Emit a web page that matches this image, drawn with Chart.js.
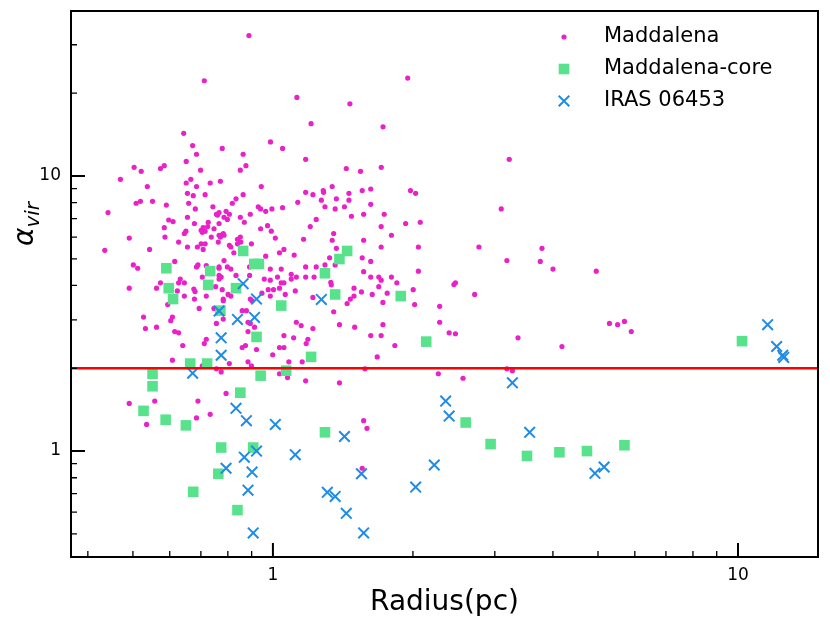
<!DOCTYPE html>
<html>
<head>
<meta charset="utf-8">
<script src="https://cdn.jsdelivr.net/npm/chart.js@4.4.1/dist/chart.umd.min.js"></script>
<style>
  html,body{margin:0;padding:0;background:#fff}
  #wrap{width:830px;height:623px}
</style>
</head>
<body>
<div id="wrap"><canvas id="c" width="830" height="623"></canvas></div>
<script>
// [radius (pc), alpha_vir]
const MADDALENA = [
  [0.888,32.4],[0.712,22.2],[1.126,19.3],[1.208,15.5],[1.464,18.3],[0.643,14.3],[0.672,12.9],[0.685,12.0],[0.778,12.6],[0.863,12.0],
  [0.988,13.3],[1.049,12.6],[1.176,11.5],[0.651,11.3],[0.503,10.75],[0.521,10.4],[0.573,10.65],[0.584,10.9],[0.699,10.5],[0.875,10.9],
  [0.851,10.5],[1.438,10.65],[0.470,9.73],[0.651,9.43],[0.666,9.73],[0.685,9.16],[0.733,9.43],[0.771,9.57],[0.537,9.16],[0.944,9.16],
  [1.341,9.16],[1.283,8.85],[1.949,22.7],[1.725,15.1],[3.222,11.5],[1.543,10.4],[1.710,10.75],
  [0.655,8.65],[0.674,8.48],[0.715,8.55],[0.508,7.96],[0.519,8.09],[0.551,8.09],[0.590,7.84],[0.659,7.96],[0.681,7.59],[0.743,7.73],
  [0.442,7.36],[0.760,7.21],[0.766,7.36],[0.655,7.08],[0.597,6.92],[0.610,6.83],[0.678,6.72],[0.726,6.79],[0.724,6.55],[0.708,6.49],
  [0.701,6.35],[0.715,6.30],[0.705,6.24],[0.747,6.43],[0.584,6.49],[0.650,6.30],[0.645,6.18],[0.491,5.95],[0.586,6.00],[0.737,6.00],
  [0.766,6.09],[0.627,5.75],[0.701,5.67],[0.715,5.67],[0.763,5.75],[0.655,5.52],[0.688,5.52],[0.708,5.41],[0.543,5.41],[0.435,5.37],
  [0.615,4.89],[0.501,4.75],[0.512,4.62],[0.690,4.75],[0.685,4.67],[0.719,4.72],[0.766,4.62],[0.632,4.22],[0.705,4.29],
  [1.176,8.72],[1.219,8.55],[1.285,8.72],[1.457,8.65],[1.556,8.85],[0.863,8.55],[0.833,8.26],[0.818,7.96],[1.131,8.02],[1.271,8.17],
  [1.369,8.26],[1.457,8.17],[0.930,7.73],[0.941,7.59],[0.965,7.44],[0.995,7.59],[1.049,7.67],[1.294,7.73],[1.361,7.59],[1.425,7.73],
  [0.756,7.26],[0.793,7.44],[0.806,7.26],[0.785,7.08],[0.798,6.95],[0.766,6.72],[0.851,7.08],[0.894,7.26],[0.868,6.79],[1.475,7.14],
  [1.567,7.26],[1.239,6.95],[1.203,6.55],[0.941,6.43],[0.974,6.60],[0.992,6.30],[0.782,6.18],[0.771,6.09],[0.785,6.09],[0.771,6.00],
  [1.012,5.95],[1.164,5.89],[1.351,6.18],[1.341,5.84],[1.567,5.84],[0.839,5.89],[0.851,6.00],[0.853,5.75],[0.839,5.67],[0.899,5.67],
  [0.806,5.60],[0.812,5.52],[0.824,5.26],[1.056,5.41],[1.033,5.26],[1.111,5.16],[0.965,5.11],[1.369,5.46],[1.324,5.04],[1.556,5.04],
  [0.785,4.93],[0.798,4.67],[0.766,4.67],[0.812,4.59],[0.891,4.67],[0.987,4.59],[1.042,4.59],[1.176,4.67],[1.239,4.67],[1.294,4.75],
  [1.361,4.75],[0.833,4.35],[0.766,4.35],[0.774,4.29],[0.891,4.35],[0.958,4.22],[1.023,4.29],[1.095,4.39],[1.123,4.29],[1.176,4.29],
  [1.226,4.29],[1.567,4.49],
  [0.491,3.91],[0.573,4.09],[0.562,3.91],[0.627,4.09],[0.645,4.09],[0.623,3.82],[0.676,3.88],[0.680,3.80],[0.645,3.66],[0.678,3.57],
  [0.719,3.66],[0.753,3.96],[0.766,4.22],[0.594,3.41],[0.694,3.30],[0.747,3.30],[0.527,3.07],[0.608,3.07],[0.603,2.98],[0.532,2.79],
  [0.562,2.82],[0.615,2.72],[0.627,2.69],[0.756,2.91],[0.719,2.55],[0.712,2.46],[0.640,2.42],[0.608,2.14],[0.705,2.04],[0.756,1.99],
  [0.778,3.86],[0.782,3.57],[0.782,3.52],[0.801,3.71],[0.812,3.66],[0.987,4.18],[1.042,4.09],[1.056,4.09],[0.977,3.86],[1.003,3.86],
  [1.033,3.91],[1.063,3.71],[0.987,3.66],[0.947,3.75],[0.894,3.57],[0.902,3.52],[1.117,3.82],[1.095,4.22],[1.332,4.11],[1.335,4.02],
  [1.494,3.91],[1.550,3.79],[1.494,3.66],[1.467,3.57],[1.444,3.44],[1.219,3.62],[1.351,3.21],[0.859,3.24],[0.877,3.24],[0.782,3.02],
  [0.884,2.94],[0.894,2.91],[0.913,2.82],[0.884,2.72],[1.123,2.94],[1.150,2.86],[1.219,2.79],[1.390,2.88],[1.499,2.82],[1.056,2.63],
  [1.108,2.58],[1.189,2.55],[1.179,2.46],[0.859,2.38],[0.873,2.42],[0.922,2.34],[1.033,2.38],[1.056,2.38],[0.999,2.24],[0.806,2.08],
  [0.884,2.11],[0.899,2.04],[1.082,2.11],[1.156,2.11],
  [1.623,8.97],[1.976,8.85],[2.027,8.65],[1.623,7.89],[1.735,7.26],[3.097,7.59],[1.929,6.72],[2.074,6.79],[1.709,6.55],[1.798,6.09],
  [1.709,5.52],[2.055,5.52],[2.773,5.52],[3.789,5.46],[1.623,4.89],[3.185,4.93],[3.757,4.89],[4.001,4.59],[4.957,4.51],[1.623,4.29],
  [1.689,4.29],[1.709,4.18],[1.798,4.29],[1.847,4.09],[1.689,3.96],[2.055,4.51],[2.469,4.09],[2.450,4.03],[1.635,3.71],[1.761,3.75],
  [1.724,3.47],[2.003,3.86],[2.017,3.41],[2.715,3.71],[2.283,3.36],[2.283,2.94],[1.724,2.88],[1.623,2.63],[1.709,2.63],[2.393,2.69],
  [2.469,2.67],[1.829,2.42],[3.365,2.58],[4.183,2.40],[5.292,2.91],[5.511,2.88],[1.676,2.20],[1.577,1.99],[3.185,1.99],[3.273,1.96],
  [2.268,1.91],
  [0.491,1.49],[0.557,1.52],[0.535,1.25],[0.690,1.52],[0.685,1.32],[0.733,1.36],[0.774,1.94],[0.793,1.62],[1.033,1.91],[1.075,1.85],
  [1.176,1.80],[1.390,1.77],[1.567,1.29],[1.556,0.866],[2.563,1.84],[1.593,1.21],[5.700,2.96],[5.896,2.72]
];

const MADDALENA_CORE = [
  [0.590,4.62],[0.733,4.51],[0.863,5.34],[0.912,4.79],[0.933,4.79],[1.444,5.34],[1.390,4.99],[1.294,4.43],[0.597,3.91],[0.610,3.57],
  [0.726,4.02],[0.833,3.91],[0.771,3.24],[1.042,3.38],[1.361,3.71],[0.922,2.60],[1.208,2.20],[1.068,1.96],[0.941,1.88],[1.883,3.66],
  [2.136,2.50],[0.664,2.08],[0.722,2.08],[0.551,1.91],[0.551,1.72],[0.527,1.40],[0.588,1.30],[0.650,1.24],[0.774,1.03],[0.763,0.827],
  [0.674,0.711],[0.851,1.63],[1.294,1.17],[0.907,1.03],[0.839,0.610],[2.597,1.27],[2.938,1.06],[3.518,0.96],[4.131,0.99],[4.734,1.00],
  [5.700,1.05],[10.20,2.51]
];

const IRAS_06453 = [
  [0.863,4.06],[0.922,3.57],[1.271,3.56],[0.766,3.23],[0.839,3.01],[0.913,3.06],[0.774,2.58],[0.774,2.23],[0.672,1.92],[0.833,1.43],
  [0.877,1.29],[1.012,1.25],[1.425,1.13],[0.922,1.00],[0.868,0.95],[1.117,0.97],[0.793,0.866],[0.902,0.839],[1.550,0.827],[0.884,0.721],
  [1.309,0.708],[1.361,0.684],[1.438,0.594],[0.907,0.504],[1.567,0.504],[2.352,1.52],[2.393,1.34],[3.273,1.77],[3.565,1.17],[2.223,0.89],
  [2.027,0.740],[4.925,0.83],[5.154,0.875],[11.58,2.88],[12.11,2.40],[12.48,2.23],[12.54,2.19]
];

const ALPHA_REF = 2;           // horizontal red line
const X_RANGE = [0.368, 14.86];
const Y_RANGE = [0.412, 39.8];
const X_MAJOR = [1, 10];
const X_MINOR = [0.4,0.5,0.6,0.7,0.8,0.9,2,3,4,5,6,7,8,9];
const Y_MAJOR = [1, 10];
const Y_MINOR = [0.5,0.6,0.7,0.8,0.9,2,3,4,5,6,7,8,9,20,30];

const PINK = '#ea20c8', GREEN = '#58e28c', BLUE = '#1f8be6';
const FONT = "'DejaVu Sans', sans-serif";

const toPts = arr => arr.map(p => ({x: p[0], y: p[1]}));
const isLabel = (list, v) => list.some(l => Math.abs(l - v) < 1e-9);

function drawMarker(ctx, ds, x, y) {
  ctx.save();
  if (ds.pointStyle === 'circle') {
    ctx.fillStyle = ds.backgroundColor;
    ctx.beginPath(); ctx.arc(x, y, ds.pointRadius, 0, Math.PI*2); ctx.fill();
  } else if (ds.pointStyle === 'rect') {
    const s = ds.pointRadius * Math.SQRT1_2;
    ctx.fillStyle = ds.backgroundColor;
    ctx.fillRect(x - s, y - s, 2*s, 2*s);
  } else {
    const s = ds.pointRadius * Math.SQRT1_2;
    ctx.strokeStyle = ds.borderColor; ctx.lineWidth = ds.borderWidth;
    ctx.beginPath();
    ctx.moveTo(x - s, y - s); ctx.lineTo(x + s, y + s);
    ctx.moveTo(x - s, y + s); ctx.lineTo(x + s, y - s);
    ctx.stroke();
  }
  ctx.restore();
}

const decor = {
  id: 'decor',
  afterDatasetsDraw(chart) {
    const {ctx, chartArea: a, scales: {y}} = chart;
    const py = y.getPixelForValue(ALPHA_REF);
    ctx.save();
    ctx.strokeStyle = '#ff0000'; ctx.lineWidth = 2.5;
    ctx.beginPath(); ctx.moveTo(a.left, py); ctx.lineTo(a.right, py); ctx.stroke();
    ctx.restore();
  },
  afterDraw(chart) {
    const {ctx, chartArea: a, scales: {x, y}} = chart;
    ctx.save();
    // frame
    ctx.strokeStyle = '#000'; ctx.lineWidth = 2;
    ctx.strokeRect(a.left, a.top, a.right - a.left, a.bottom - a.top);
    // inward ticks
    const tick = (len, w, vals, horiz) => {
      ctx.lineWidth = w; ctx.beginPath();
      vals.forEach(v => {
        if (horiz) { const p = x.getPixelForValue(v); ctx.moveTo(p, a.bottom); ctx.lineTo(p, a.bottom - len); }
        else { const p = y.getPixelForValue(v); ctx.moveTo(a.left, p); ctx.lineTo(a.left + len, p); }
      });
      ctx.stroke();
    };
    tick(14, 2, X_MAJOR, true); tick(6, 1.3, X_MINOR, true);
    tick(14, 2, Y_MAJOR, false); tick(6, 1.3, Y_MINOR, false);

    // axis titles
    ctx.fillStyle = '#000';
    ctx.font = '28px ' + FONT; ctx.textAlign = 'center'; ctx.textBaseline = 'middle';
    ctx.fillText('Radius(pc)', (a.left + a.right) / 2, 603);

    ctx.save();
    ctx.translate(33, 224); ctx.rotate(-Math.PI / 2);
    ctx.textAlign = 'left'; ctx.textBaseline = 'alphabetic';
    ctx.font = 'italic 28px ' + FONT; const wA = ctx.measureText('α').width;
    ctx.font = 'italic 20px ' + FONT; const wV = ctx.measureText('vir').width;
    const x0 = -(wA + wV) / 2;
    ctx.font = 'italic 28px ' + FONT; ctx.fillText('α', x0, 0);
    ctx.font = 'italic 20px ' + FONT; ctx.fillText('vir', x0 + wA, 6);
    ctx.restore();

    // legend
    ctx.font = '21px ' + FONT; ctx.textAlign = 'left'; ctx.textBaseline = 'middle';
    chart.data.datasets.forEach((ds, i) => {
      const ly = 37 + i * 32;
      drawMarker(ctx, ds, 564, ly);
      ctx.fillStyle = '#000';
      ctx.fillText(ds.label, 604, ly);
    });
    ctx.restore();
  }
};

new Chart(document.getElementById('c'), {
  type: 'scatter',
  data: {
    datasets: [
      {label:'Maddalena', data: toPts(MADDALENA), pointStyle:'circle', pointRadius:2.6, backgroundColor:PINK, borderWidth:0, order:3},
      {label:'Maddalena-core', data: toPts(MADDALENA_CORE), pointStyle:'rect', pointRadius:7.5, backgroundColor:GREEN, borderWidth:0, order:2},
      {label:'IRAS 06453', data: toPts(IRAS_06453), pointStyle:'crossRot', pointRadius:7.5, borderColor:BLUE, backgroundColor:BLUE, borderWidth:2, order:1}
    ]
  },
  options: {
    responsive: false, animation: false, devicePixelRatio: 1,
    layout: {padding: {top: 11, right: 12, left: 0, bottom: 0}},
    plugins: {legend: {display: false}, tooltip: {enabled: false}},
    elements: {point: {hoverRadius: 0}},
    scales: {
      x: {
        type: 'logarithmic', min: X_RANGE[0], max: X_RANGE[1],
        grid: {display: false, drawTicks: false}, border: {display: false},
        ticks: {autoSkip: false, maxRotation: 0, minRotation: 0, padding: 8, color: '#000',
                font: {family: FONT, size: 17}, callback: v => isLabel(X_MAJOR, v) ? String(v) : ''},
        afterFit: s => { s.height = 66; s.paddingLeft = 0; s.paddingRight = 0; }
      },
      y: {
        type: 'logarithmic', min: Y_RANGE[0], max: Y_RANGE[1],
        grid: {display: false, drawTicks: false}, border: {display: false},
        ticks: {autoSkip: false, padding: 10, color: '#000',
                font: {family: FONT, size: 17}, callback: v => isLabel(Y_MAJOR, v) ? String(v) : ''},
        afterFit: s => { s.width = 71; s.paddingTop = 0; s.paddingBottom = 0; }
      }
    }
  },
  plugins: [decor]
});
</script>
</body>
</html>
